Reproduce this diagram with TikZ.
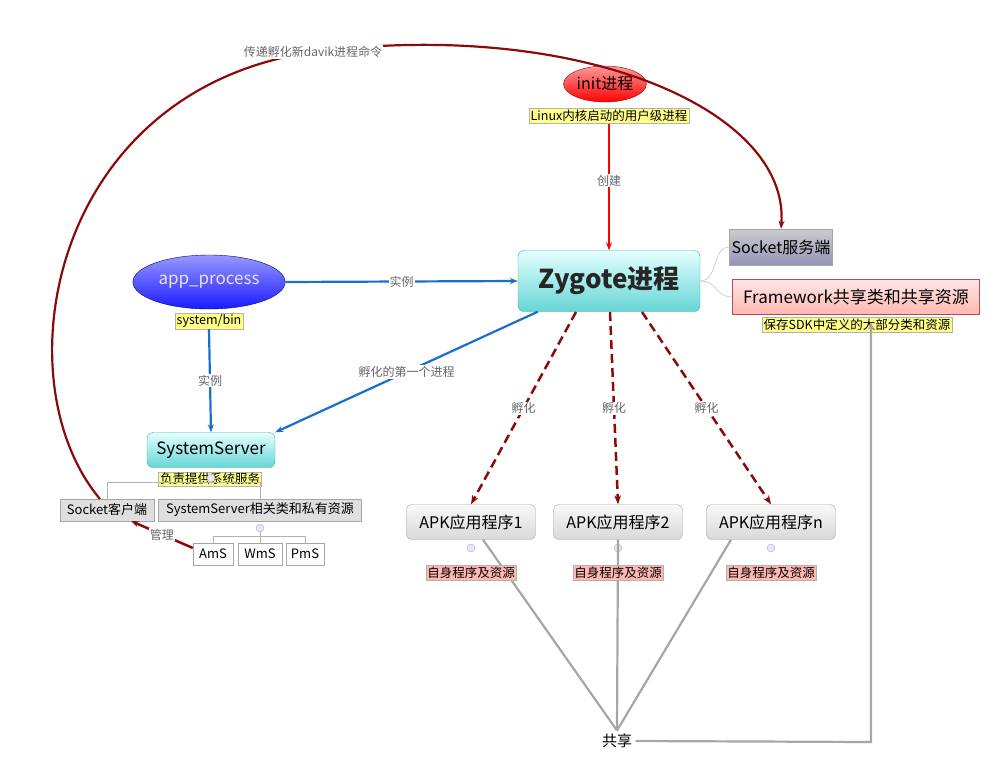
\documentclass[tikz,border=0pt]{standalone}
\usepackage{fontspec}
\setmainfont{Noto Sans CJK SC}
\usetikzlibrary{shapes.geometric,arrows.meta}
\definecolor{darkred}{HTML}{8B0A0A}
\definecolor{arblue}{HTML}{1A6FCC}
\definecolor{notey}{HTML}{FFFF88}
\definecolor{notep}{HTML}{FFB8B0}
\tikzset{
  box/.style={draw=gray!70, rectangle, inner sep=2pt, font=\fontsize{13}{14}\selectfont},
  topic/.style={box, rounded corners=5pt, top color=gray!5, bottom color=gray!30, minimum height=35pt, minimum width=129pt, font=\fontsize{16}{17}\selectfont},
  note/.style={box, fill=notey, draw=gray!60, font=\fontsize{12.5}{13}\selectfont, inner sep=1.5pt},
  pnote/.style={note, fill=notep},
  lbl/.style={fill=white, inner sep=1pt, text=gray!80!black, font=\fontsize{12}{13}\selectfont},
  blue arrow/.style={arblue, line width=2.2pt, -{Stealth[length=8pt]}},
  red dash/.style={darkred, line width=2.5pt, dash pattern=on 9pt off 5pt, -{Stealth[length=9pt]}},
  gline/.style={gray!70, line width=2.2pt},
  minus/.style={circle, draw=gray!60, fill=blue!10, inner sep=0pt, minimum size=8pt},
}
\begin{document}
\begin{tikzpicture}[x=1pt, y=-1pt]
  \useasboundingbox (0,0) rectangle (999,777);
  % main nodes
  \node[ellipse, draw=red!60!black, top color=red!40, bottom color=red, minimum width=70pt, minimum height=36pt, inner sep=1pt, font=\fontsize{16}{17}\selectfont] (init) at (605,84) {init进程};
  \node[note] (initnote) at (609,116) {Linux内核启动的用户级进程};
  \node[box, rounded corners=6pt, top color=cyan!10, bottom color=cyan!45!teal!60, draw=teal!70, minimum width=182pt, minimum height=61pt, font=\bfseries\fontsize{26}{28}\selectfont, text=gray!30!black] (zygote) at (609,281) {Zygote进程};
  \node[box, top color=gray!40, bottom color=gray!80!blue!70, minimum width=97pt, minimum height=36pt, font=\fontsize{16}{17}\selectfont] (sockserv) at (781,247) {Socket服务端};
  \node[box, top color=red!10, bottom color=notep, draw=red!40!gray, minimum width=247pt, minimum height=35pt, font=\fontsize{17}{18}\selectfont] (frame) at (856,297) {Framework共享类和共享资源};
  \node[note] (framenote) at (857,325) {保存SDK中定义的大部分类和资源};
  \node[ellipse, draw=blue!50!black, top color=blue!40, bottom color=blue!90, text=white!90!black, minimum width=125pt, minimum height=54pt, font=\fontsize{17}{18}\selectfont] (app) at (209,282) {app\_process};
  \node[note] (appnote) at (209,321) {system/bin};
  \node[box, rounded corners=6pt, top color=cyan!10, bottom color=cyan!45!teal!60, draw=teal!70, minimum width=128pt, minimum height=35pt, font=\fontsize{17}{18}\selectfont] (sys) at (211,450) {SystemServer};
  \node[note] (sysnote) at (210,479) {负责提供系统服务};
  \node[box, fill=gray!25, minimum width=94pt, minimum height=22pt] (sockcli) at (107,510) {Socket客户端};
  \node[box, fill=gray!25, minimum width=203pt, minimum height=22pt] (sysres) at (260,510) {SystemServer相关类和私有资源};
  \node[box, fill=white, minimum width=40pt, minimum height=22pt] (ams) at (213,554) {AmS};
  \node[box, fill=white, minimum width=44pt, minimum height=22pt] (wms) at (260,554) {WmS};
  \node[box, fill=white, minimum width=38pt, minimum height=22pt] (pms) at (305,554) {PmS};
  % apk nodes
  \foreach \n/\x/\t in {apka/471/1, apkb/618/2, apkc/771/n} {
    \node[topic] (\n) at (\x,522) {APK应用程序\t};
    \node[minus] (\n minus) at (\x,548) {};
  }
  \node[font=\fontsize{15}{16}\selectfont] (share) at (617,741) {共享};
  % tree lines
  \draw[gray!60] (zygote.east) .. controls (718,281) and (712,247) .. (sockserv.west);
  \draw[gray!60] (zygote.east) .. controls (718,281) and (715,297) .. (frame.west);
  \draw[gray!60] (sockcli.north) -- (107,482) -- (260,482) -- (sysres.north);
  \node[minus] (sysminus) at (211,478) {};
  \node[minus] (resminus) at (260,528) {};
  \draw[gray!60] (resminus.south) -- (260,536);
  \draw[gray!60] (ams.north) -- (213,536) -- (305,536) -- (pms.north);
  \draw[gray!60] (wms.north) -- (260,536);
  % arrows
  \draw[red, line width=2.2pt, -{Stealth[length=8pt]}] (initnote.south) -- node[lbl, pos=0.45] {创建} (zygote.north);
  \draw[blue arrow] (app.east) -- node[lbl] {实例} (zygote.west);
  \draw[blue arrow] (appnote.south) -- node[lbl] {实例} (sys.north);
  \draw[blue arrow] (zygote.south west) ++(20,0) coordinate (zs) (zs) -- node[lbl, pos=0.5] {孵化的第一个进程} (sys.north east);
  \draw[red dash] (576,312) -- node[lbl] {孵化} (apka.north);
  \draw[red dash] (610,312) -- node[lbl] {孵化} (apkb.north);
  \draw[red dash] (642,312) -- node[lbl] {孵化} (apkc.north);
  \draw[gline] (apka.south) ++(12,0) coordinate (sa) (sa) -- (share.north);
  \draw[gline] (apkb.south) -- (share.north);
  \draw[gline] (apkc.south) ++(-40,0) coordinate (sc) (sc) -- (share.north);
  \foreach \n in {apka, apkb, apkc}
    \node[pnote] (\n note) at ([yshift=-51pt]\n.center) {自身程序及资源};
  \draw[gline, -{Stealth[length=8pt]}] (share.east) -- (871,742) -- (871,322);
  \draw[darkred, line width=2.2pt, -{Stealth[length=8pt]}] (100,499) .. controls (0,380) and (50,90) .. (313,52) .. controls (580,18) and (790,110) .. (sockserv.north);
  \node[lbl] (cmdlabel) at (313,52) {传递孵化新davik进程命令};
  \draw[darkred, line width=2.5pt, -{Stealth[length=8pt]}] (ams.west) ++(0,-6) coordinate (aw) (aw) -- node[lbl] {管理} (131,521);
\end{tikzpicture}
\end{document}
